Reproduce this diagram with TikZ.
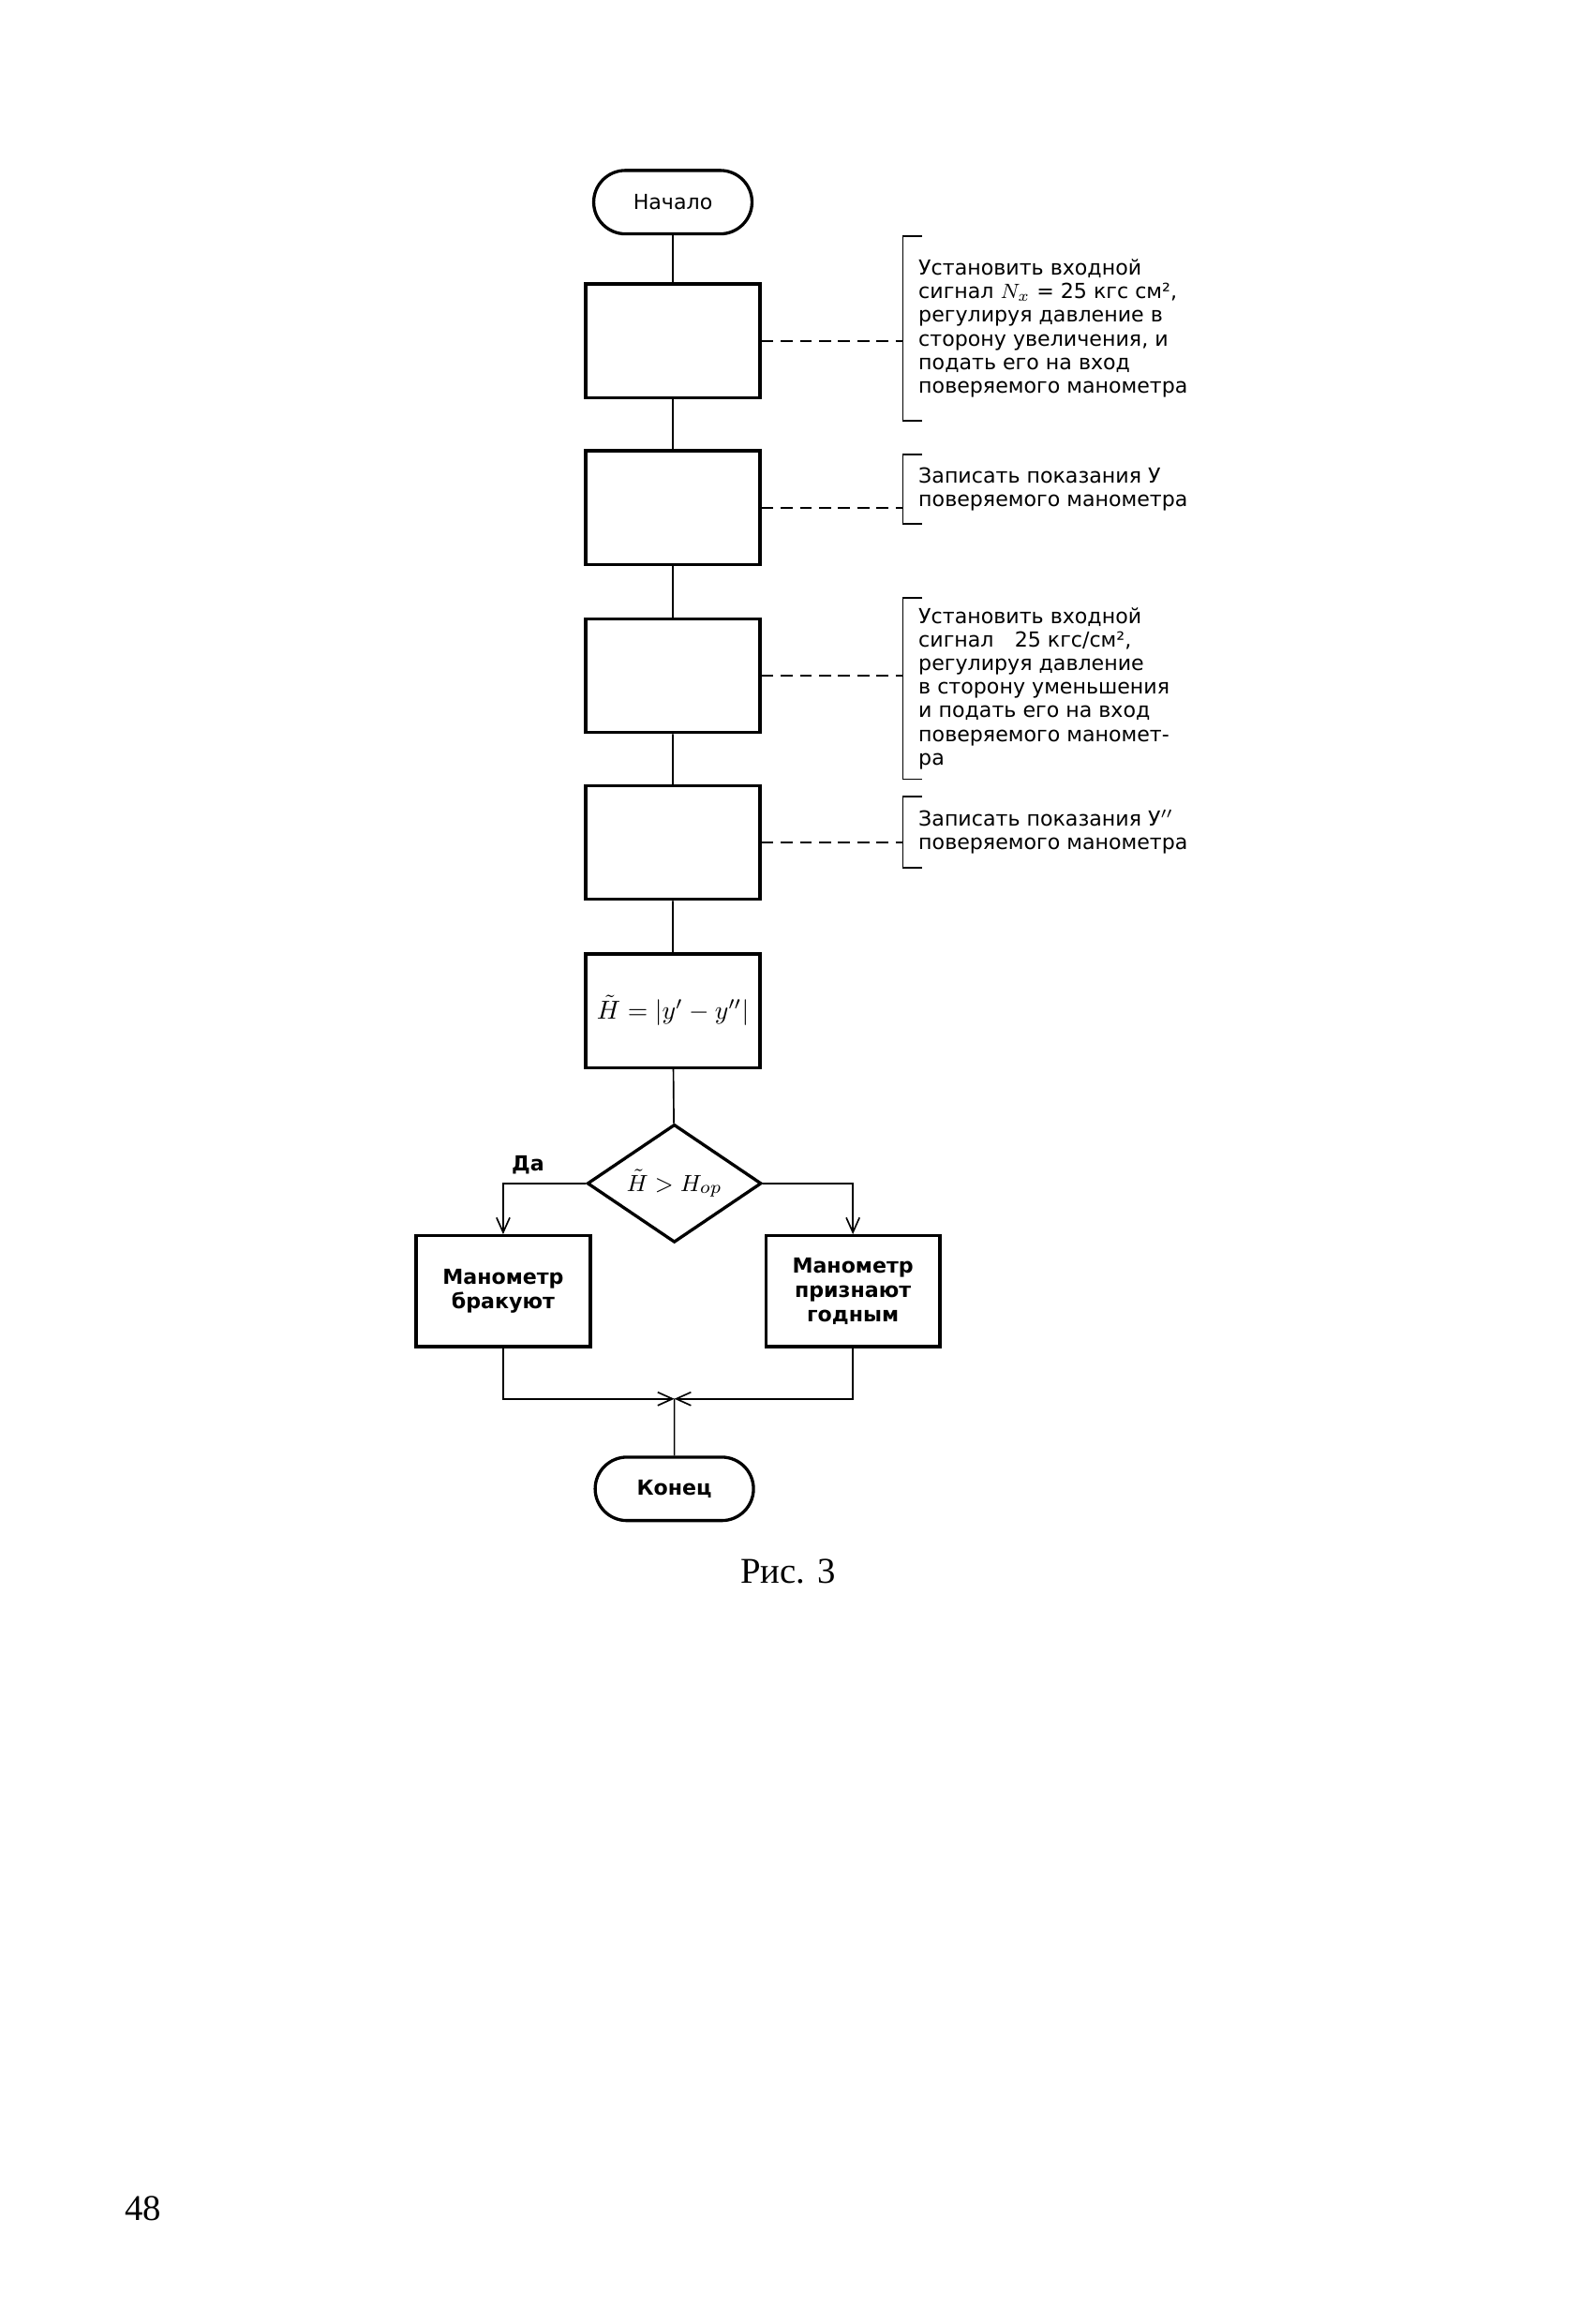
\documentclass[tikz,border=0pt]{standalone}
\usepackage{fontspec}
\setmainfont{Liberation Serif}
\newfontfamily\chartfont{DejaVu Sans}
\usetikzlibrary{shapes.geometric,shapes.misc,arrows.meta}

\tikzset{
  terminal/.style={rounded rectangle,draw,line width=1.2pt,minimum width=23.8mm,minimum height=8.6mm,
    font=\chartfont\fontsize{8}{9.5}\selectfont},
  block/.style={rectangle,draw,line width=1.2pt,minimum width=23.6mm,minimum height=15.4mm,align=center,
    font=\chartfont\bfseries\fontsize{8}{9.5}\selectfont},
  decision/.style={diamond,draw,line width=1.2pt,aspect=1.475,minimum width=23.6mm,minimum height=16mm,inner sep=0pt},
  link/.style={line width=0.6pt,dash pattern=on 1.6mm off 1mm},
  remark/.style={anchor=west,align=left,inner sep=0pt,font=\chartfont\fontsize{8}{9.1}\selectfont},
  tip/.style={-{Straight Barb[length=2mm,width=1.8mm]}},
}

\begin{document}
\begin{tikzpicture}[x=0.2mm,y=-0.2mm,line width=0.6pt]
\newcommand{\annot}[4]{\draw[link] (#1.east) -- (#1.east -| 612,0);
  \draw (625,#2) -- (612,#2) -- (612,#3) -- (625,#3);
  \node[remark] (#1note) at (622,{(#2+#3)/2}) {#4};}

\useasboundingbox (0,0) rectangle (1080,1575);

\node[terminal] (start) at (456,137) {Начало};
\node[block] (set1) at (456,231) {};
\node[block] (read1) at (456,344) {};
\node[block] (set2) at (456,458) {};
\node[block] (read2) at (456,571) {};
\node[block,inner sep=1pt,font=\fontsize{10}{12}\selectfont] (calc) at (456,685) {$\tilde{H}=|y'-y''|$};
\node[decision,font=\fontsize{9.5}{11}\selectfont] (test) at (457,802) {$\tilde{H}>H_{op}$};
\node[block,minimum height=15mm] (reject) at (341,875) {Манометр\\бракуют};
\node[block,minimum height=15mm] (accept) at (578,875) {Манометр\\признают\\годным};
\coordinate (merge) at (457,948);
\node[terminal,font=\chartfont\bfseries\fontsize{8}{9.5}\selectfont] (finish) at (457,1009) {Конец};

\node[font=\fontsize{14}{16}\selectfont] (caption) at (534,1065) {Рис. 3};
\node[font=\fontsize{14}{16}\selectfont] (page) at (97,1497) {48};

% main line
\draw (start) -- (set1) -- (read1) -- (set2) -- (read2) -- (calc) -- (test);
\draw[tip] (test.west) -| node[pos=0.35,above,font=\chartfont\bfseries\fontsize{8}{9.5}\selectfont] (yes) {Да} (reject.north);
\draw[tip] (test.east) -| (accept.north);
\draw[tip] (reject.south) |- (merge);
\draw[tip] (accept.south) |- (merge);
\draw (merge) -- (finish);

% comments
\annot{set1}{160}{285}{Установить входной\\сигнал $N_x$ = 25 кгс см²,\\регулируя давление в\\сторону увеличения, и\\подать его на вход\\поверяемого манометра}
\annot{read1}{308}{355}{Записать показания У\\поверяемого манометра}
\annot{set2}{405}{528}{Установить входной\\сигнал\quad 25 кгс/см²,\\регулируя давление\\в сторону уменьшения\\и подать его на вход\\поверяемого маномет-\\ра}
\annot{read2}{540}{588}{Записать показания У$''$\\поверяемого манометра}
\end{tikzpicture}
\end{document}
